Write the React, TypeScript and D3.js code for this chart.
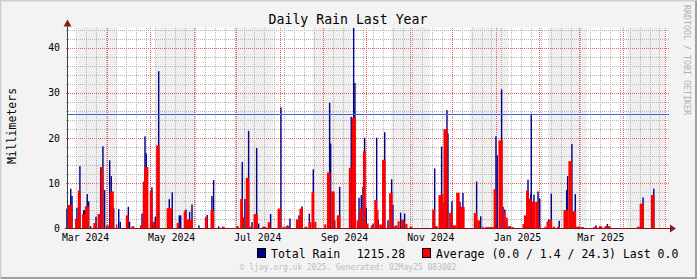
import React from 'react'
import * as d3 from 'd3'

const W = 697
const H = 279
const DAY = 864e5
const BASE = Date.UTC(2024, 2, 1)
const START = Date.UTC(2024, 2, 3, 8, 30)
const END = Date.UTC(2025, 4, 2, 8, 30)

// [day offset from 1 Mar 2024, mm]
const totalRain: [number, number][] = [
  [2.3, 4.4], [5, 8.8], [5.9, 7.2], [9.4, 4.6], [11.5, 13.8], [14.2, 4], [14.9, 4.1], [16.7, 7.6], [17.7, 6],
  [19.1, 0.5], [22.9, 2.6], [26.2, 13.5], [27.8, 18.2], [29, 8.5], [32.6, 15.1], [33.7, 11.6], [35.4, 4.5],
  [39, 4.3], [40.1, 1.5], [45.8, 4.8], [46.7, 1.5], [55.5, 3.3], [57.6, 20.4], [58.5, 16.6], [62.5, 9.1],
  [63, 1.1], [64.9, 2.6], [67.3, 34.8], [74.8, 6.5], [76.9, 8], [81.9, 2.9], [82.9, 2.9], [86.6, 4.2],
  [89.2, 3.7], [90.9, 5.3], [95.8, 0.7], [101.7, 3], [105, 7.2], [106.2, 10.7], [109.8, 0.5], [126.5, 14.7],
  [128.4, 6.5], [131, 21.6], [133.4, 1.4], [136.7, 17.8], [138.1, 1.1], [146.6, 3.2], [153.9, 26.8],
  [158.7, 0.7], [160.3, 2.2], [166.7, 2.9], [168.8, 4.9], [172.1, 0.2], [174, 3.3], [176.8, 13.1],
  [188.4, 27.8], [189.1, 18.8], [192, 1.8], [195.5, 9.2], [203.7, 24.7], [205.4, 44.4], [206.3, 32.2],
  [209.2, 6.8], [210.8, 7.4], [212, 9.2], [213.2, 20.1], [214.3, 4.6], [219.1, 1.1], [221.7, 20.1],
  [222.8, 2], [227.4, 21.3], [229.7, 1.8], [232.3, 10.9], [233.2, 5.2], [235.4, 0.7], [238.7, 3.5],
  [240.3, 2], [241.5, 3.3], [262.8, 13.3], [267.7, 18.1], [268.7, 5.7], [271.5, 26.2], [272.2, 21],
  [275, 6], [276.4, 0.4], [279.8, 5.2], [280.7, 5.9], [282.8, 7.9], [292.5, 10.4], [295.4, 2.7],
  [306.2, 20.4], [307.1, 16.2], [310.2, 30.8], [311.2, 4.8], [312.4, 4.2], [313.8, 1.8], [315.9, 0.5],
  [327.5, 0.6], [328.9, 10.8], [330.8, 7.6], [331.2, 25.4], [333.1, 7.5], [336, 8.2], [337.2, 6.6],
  [343.5, 2], [345.4, 7.7], [351, 1.7], [356.3, 8.5], [357, 11.6], [360, 18.7], [362.4, 7.6], [377, 0.7],
  [385.1, 1], [410.4, 6.9], [418, 8.8],
]

// [from day, to day, mm]
const averageRain: [number, number, number][] = [
  [3, 6, 5.2], [8, 10, 2.1], [10, 12, 8.4], [13, 15, 3.2], [15, 18, 4.9], [21, 23, 1.2], [24, 26, 3.2],
  [26, 28, 13.6], [30, 32, 0.7], [32.5, 35.5, 8.2], [37, 38, 0.9], [44, 46, 2.9], [48, 50, 0.5], [54, 56, 0.7],
  [56, 57.5, 10.4], [57, 60, 13.6], [61, 63, 8.3], [63, 65, 1.5], [65.5, 68, 18.4], [73, 77, 4.5],
  [80, 82, 1.2], [85, 87, 3.8], [87, 91.5, 2], [100, 102, 2.5], [104, 106.5, 4], [112, 114, 0.4],
  [122, 124, 0.5], [125, 127, 6.5], [127, 128, 2.5], [129, 131.5, 11.2], [131.5, 133.5, 0.4],
  [134.5, 137.5, 3.2], [140.5, 143.5, 0.4], [144.5, 146.5, 1.4], [151.5, 154, 4.4], [155, 156.5, 0.4],
  [157, 160, 0.5], [164.5, 167, 2], [167, 169.5, 4.4], [170.5, 172.5, 0.4], [173.5, 175.5, 1.4],
  [175.5, 177.5, 8], [177.5, 179, 1.5], [184.5, 186, 0.9], [186.5, 189, 12.4], [189.5, 192, 8.2],
  [193.5, 196, 2.9], [202, 204, 13.4], [204, 207, 24.5], [207.5, 209.5, 1.8], [209.5, 211.5, 4.4],
  [212, 214, 17.1], [214, 216, 1.1], [217.5, 219, 0.7], [220, 222, 6.3], [222, 223, 4.1],
  [223.5, 225.5, 0.9], [225.5, 228, 15.2], [229, 230, 0.4], [230.5, 233, 7.8], [233.5, 236.5, 0.5],
  [236.5, 238, 1.6], [239, 241.5, 1.8], [242, 243.5, 1], [245, 247, 0.4], [261, 263, 4.2], [263, 265, 0.5],
  [265.5, 268, 7.4], [268, 269, 7.6], [269, 272, 22], [273, 275.5, 3.5], [275.5, 278, 0.7], [278, 280.5, 7.9],
  [280.5, 284, 4.8], [290.5, 293, 3.4], [293, 295, 1.8], [296.5, 297.5, 0.4], [298.5, 304.5, 0.3],
  [304.5, 306.5, 8.7], [308, 311, 19.5], [311.5, 313, 3.7], [313, 314.5, 2.4], [314.5, 317, 0.5],
  [317, 319, 0.3], [325, 327.5, 1], [326, 327.5, 2.9], [327.5, 329.5, 8.4], [329.5, 331.5, 6.6],
  [331.5, 334, 5.9], [334, 336.5, 5.9], [336.5, 338, 0.5], [340.5, 342, 0.4], [342, 344, 1.5], [344, 346, 2],
  [346.5, 348, 0.4], [349.5, 351.5, 0.4], [354, 357.5, 4.1], [357.5, 360, 14.9], [360, 363, 3.8],
  [363, 366, 0.4], [366, 368.5, 0.3], [375, 378, 0.3], [379, 381.5, 0.5], [383, 387.5, 0.5], [406, 408, 0.4],
  [408, 411, 5.5], [416, 418.5, 7.4],
]

// shaded background periods [from day, to day]
const shaded: [number, number][] = [
  [10, 37.5], [65.5, 93], [121, 148.5], [176.5, 204], [232, 259.5], [287.5, 315], [343, 370.5], [398.5, 426],
]

const refLevel = 25.4
const yMax = 44.47
const yTicks = [0, 10, 20, 30, 40]
const labelMonths = ['2024-03-01', '2024-05-01', '2024-07-01', '2024-09-01', '2024-11-01', '2025-01-01', '2025-03-01']

const MONO = "'DejaVu Sans Mono', monospace"
const NAVY = '#00008b'
const RED = '#ff0000'
const MGRID = '#f25a5a'
const GRID = '#b4b4b4'

const dayDate = (d: number) => new Date(BASE + d * DAY)

export default function App() {
  const x = d3.scaleUtc().domain([new Date(START), new Date(END)]).range([67, 667])
  const y = d3.scaleLinear().domain([0, yMax]).range([228.5, 27.5])
  const [x0, x1] = x.range()
  const yTop = y(yMax)
  const y0 = y(0)
  const gTop = Math.round(yTop)
  const gBot = Math.floor(y0)

  const weeks = d3.utcSunday.range(new Date(START), new Date(END))
  const months = d3.utcMonth.range(new Date(START), new Date(END))
  const minorY = d3.range(2, yMax, 2).filter(v => v % 10 !== 0)
  const fmt = d3.utcFormat('%b %Y')

  const vLine = (px: number, fill: string, key: string) => (
    <rect key={key} x={Math.round(px)} y={gTop} width={1} height={gBot - gTop} fill={fill} shapeRendering="crispEdges" />
  )
  const hLine = (py: number, fill: string, key: string) => (
    <rect key={key} x={x0 - 2} y={Math.round(py)} width={x1 - x0 + 4} height={1} fill={fill} shapeRendering="crispEdges" />
  )

  return (
    <div style={{ position: 'fixed', left: 0, top: 0 }}>
      <svg width={W} height={H} style={{ display: 'block' }}>
        <defs>
          <pattern id="vGrid" width={1} height={2} patternUnits="userSpaceOnUse">
            <rect width={1} height={1} fill={GRID} />
          </pattern>
          <pattern id="hGrid" width={2} height={1} patternUnits="userSpaceOnUse">
            <rect width={1} height={1} fill={GRID} />
          </pattern>
          <pattern id="vMGrid" width={1} height={2} patternUnits="userSpaceOnUse">
            <rect width={1} height={1} fill={MGRID} />
          </pattern>
          <pattern id="hMGrid" width={2} height={1} patternUnits="userSpaceOnUse">
            <rect width={1} height={1} fill={MGRID} />
          </pattern>
        </defs>
        <rect x={0} y={0} width={W} height={H} fill="#f3f3f3" />
        <path d={`M0.5,${H} V0.5 H${W}`} stroke="#cfcfcf" strokeWidth={2} fill="none" />
        <path d={`M1,${H - 1} H${W - 1} V1`} stroke="#a0a0a0" strokeWidth={2} fill="none" />

        {/* canvas */}
        <rect x={x0} y={yTop} width={x1 - x0} height={y0 - yTop} fill="#ffffff" />
        {shaded.map(([a, b], i) => {
          const l = Math.max(x0, x(dayDate(a)))
          const r = Math.min(x1, x(dayDate(b)))
          return r > l ? <rect key={i} x={l} y={yTop} width={r - l} height={y0 - yTop} fill="#efefef" /> : null
        })}

        {/* grid */}
        {weeks.map((w, i) => vLine(x(w), 'url(#vGrid)', 'w' + i))}
        {minorY.map(v => hLine(y(v), 'url(#hGrid)', 'h' + v))}
        {months.map((m, i) => vLine(x(m), 'url(#vMGrid)', 'm' + i))}
        {yTicks.filter(v => v > 0).map(v => hLine(y(v), 'url(#hMGrid)', 'H' + v))}

        {/* series */}
        {totalRain.map(([d, v], i) => {
          const l = x(dayDate(d - 0.5))
          const r = x(dayDate(d + 0.5))
          return <rect key={'b' + i} x={l} y={y(v)} width={r - l} height={y0 - y(v)} fill={NAVY} />
        })}
        {averageRain.map(([a, b, v], i) => {
          const l = x(dayDate(a))
          const r = x(dayDate(b))
          return <rect key={'r' + i} x={l} y={y(v)} width={r - l} height={y0 - y(v)} fill={RED} />
        })}

        <rect x={x0} y={Math.round(y(refLevel))} width={x1 - x0 + 2} height={1} fill="#3f62e4" shapeRendering="crispEdges" />

        {/* axes */}
        <line x1={x0 + 0.5} x2={x0 + 0.5} y1={y0} y2={yTop - 4} stroke="#404040" />
        <path d={`M${x0 - 3.5},${yTop - 1} L${x0 + 4.5},${yTop - 1} L${x0 + 0.5},${yTop - 8} Z`} fill="#8b1a1a" />
        <line x1={x0 - 2} x2={x1 + 4} y1={y0} y2={y0} stroke="#7f1515" strokeWidth={1.2} />
        <path d={`M${x1 + 3},${y0 - 4} L${x1 + 3},${y0 + 4} L${x1 + 9},${y0} Z`} fill="#8b1a1a" />

        {/* y ticks */}
        {yTicks.map(v => (
          <text key={'yt' + v} x={60} y={y(v) + 3.5} textAnchor="end" fontFamily={MONO} fontSize={9.8} fill="#000">
            {v}
          </text>
        ))}
        {/* x labels */}
        {labelMonths.map(s => {
          const m = new Date(s + 'T00:00:00Z')
          const cx = (x(m) + x(d3.utcMonth.offset(m, 1))) / 2
          return (
            <text key={s} x={cx} y={241} textAnchor="middle" fontFamily={MONO} fontSize={9.8} fill="#000">
              {fmt(m)}
            </text>
          )
        })}

        <text x={348} y={24} textAnchor="middle" fontFamily={MONO} fontSize={13.2} fill="#000">
          Daily Rain Last Year
        </text>
        <text transform="translate(15.5,126) rotate(-90)" textAnchor="middle" fontFamily={MONO} fontSize={11.5} fill="#000">
          Millimeters
        </text>
        <text transform="translate(684,5) rotate(90)" fontFamily={MONO} fontSize={8.3} fill="#b0b0b0">
          RRDTOOL / TOBI OETIKER
        </text>

        {/* legend */}
        <rect x={257.5} y={248.5} width={8} height={9} fill={NAVY} stroke="#000" />
        <text x={271} y={257.5} fontFamily={MONO} fontSize={11.5} fill="#000">Total Rain</text>
        <text x={356.7} y={257.5} fontFamily={MONO} fontSize={11.5} fill="#000">1215.28</text>
        <rect x={422.5} y={248.5} width={8} height={9} fill={RED} stroke="#000" />
        <text x={436} y={257.5} fontFamily={MONO} fontSize={11.5} fill="#000">Average (0.0 / 1.4 / 24.3) Last 0.0</text>
        <text x={348} y={270} textAnchor="middle" fontFamily={MONO} fontSize={8} fill="#bcbcbc">
          © ljay.org.uk 2025. Generated: 02May25 083002
        </text>
      </svg>
    </div>
  )
}
